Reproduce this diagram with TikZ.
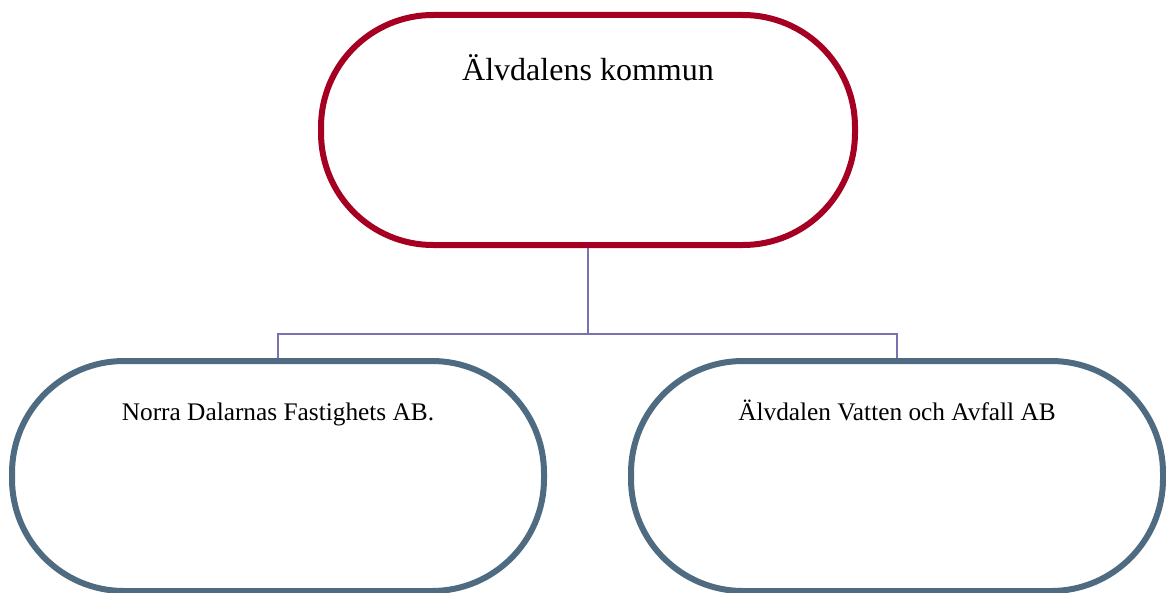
\documentclass[tikz,border=0pt]{standalone}
\usepackage{fontspec}
\setmainfont{Liberation Serif}
\usetikzlibrary{positioning}
\definecolor{kommunred}{HTML}{A50021}
\definecolor{bolagblue}{HTML}{4E6B81}
\definecolor{linkviolet}{HTML}{7773B1}
\tikzset{
  pill/.style={draw,line width=4.5pt,fill=white,rounded corners=84pt,inner sep=0pt,minimum height=172.5pt},
  kommun/.style={pill,draw=kommunred,minimum width=400.5pt,text height=48.75pt,text depth=123.75pt,font=\fontsize{24}{28}\selectfont},
  bolag/.style={pill,draw=bolagblue,minimum width=399pt,text height=44.25pt,text depth=128.25pt,font=\fontsize{19}{23}\selectfont},
  link/.style={draw=linkviolet,line width=1.4pt}
}
\begin{document}
\begin{tikzpicture}[x=0.75pt,y=-0.75pt]
    \useasboundingbox (0,0) rectangle (1166,592);
    \node[kommun] (top) at (588,130) {Älvdalens kommun};
    \node[bolag,below=82.5pt of top,xshift=-232.5pt] (ndf) {Norra Dalarnas Fastighets AB.};
    \node[bolag,below=82.5pt of top,xshift=231.75pt] (vatten) {Älvdalen Vatten och Avfall AB};
    \coordinate (bus) at (588,334);
    \path[link] (top.south) -- (bus) -| (ndf.north);
    \path[link] (bus) -| (vatten.north);
\end{tikzpicture}
\end{document}
